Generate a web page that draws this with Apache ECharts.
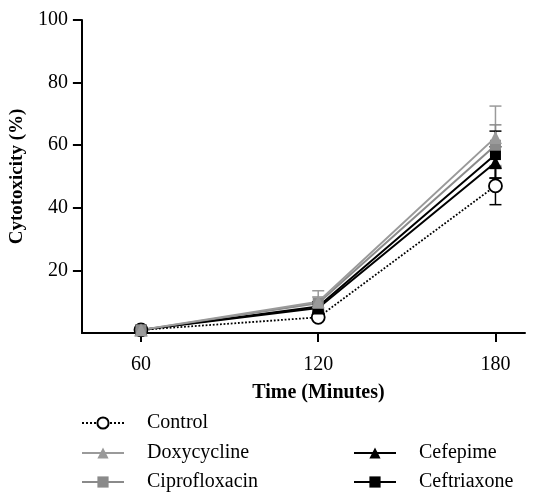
<!DOCTYPE html>
<html><head><meta charset="utf-8">
<script src="https://cdn.jsdelivr.net/npm/echarts@6/dist/echarts.min.js"></script>
<style>html,body{margin:0;padding:0;background:#fff}#c{width:553px;height:494px}</style>
</head><body><div id="c"></div>
<script>
var times = [60, 120, 180];
var seriesNames = ['Control', 'Doxycycline', 'Ciprofloxacin', 'Cefepime', 'Ceftriaxone'];
var control = [1, 5, 47];
var doxycycline = [1, 10, 62.5];
var ciprofloxacin = [1, 9.5, 60];
var cefepime = [1, 8, 54.5];
var ceftriaxone = [1, 8.5, 57];
var controlErr = [0.5, 1, 6];
var doxycyclineErr = [0.5, 3.5, 10];
var ciprofloxacinErr = [0.5, 2, 6.5];
var cefepimeErr = [0.5, 1.5, 5];
var ceftriaxoneErr = [0.5, 1.5, 7.5];
var yTicks = [20, 40, 60, 80, 100];

var FONT = "'Liberation Serif', 'Times New Roman', serif";
var GRAY = '#8a8a8a', LGRAY = '#9a9a9a', BLACK = '#000';

function pts(vals){ return times.map(function(t,i){ return [t, vals[i]]; }); }
function errData(vals, errs){ return times.map(function(t,i){ return [t, vals[i]-errs[i], vals[i]+errs[i]]; }); }

function errSeries(vals, errs, color){
  return {
    type:'custom', silent:true, z:1,
    data: errData(vals, errs),
    renderItem: function(params, api){
      var x = api.value(0);
      var lo = api.coord([x, api.value(1)]);
      var hi = api.coord([x, api.value(2)]);
      var w = 6;
      var st = {stroke: color, lineWidth: 1.5};
      return {type:'group', children:[
        {type:'line', shape:{x1:lo[0],y1:lo[1],x2:hi[0],y2:hi[1]}, style:st},
        {type:'line', shape:{x1:hi[0]-w,y1:hi[1],x2:hi[0]+w,y2:hi[1]}, style:st},
        {type:'line', shape:{x1:lo[0]-w,y1:lo[1],x2:lo[0]+w,y2:lo[1]}, style:st}
      ]};
    }
  };
}

function lineSeries(name, vals, color, symbol, size, dotted, fill){
  return {
    name: name, type:'line', data: pts(vals), z:3,
    symbol: symbol, symbolSize: size,
    lineStyle:{color: color, width: dotted ? 1.8 : 2, type: dotted ? 'dotted' : 'solid'},
    itemStyle:{color: fill || color, borderColor: color, borderWidth: dotted ? 1.8 : 0},
    emphasis:{disabled:true}
  };
}

function legendItem(name, left, top){
  return {data:[name], orient:'horizontal', left:left, top:top, padding:0,
    itemWidth:42, itemHeight:14, selectedMode:false,
    textStyle:{fontFamily:FONT, fontSize:20, color:'#000', padding:[0,0,0,18]}};
}

var chart = echarts.init(document.getElementById('c'));
chart.setOption({
  animation:false,
  backgroundColor:'#fff',
  textStyle:{fontFamily:FONT},
  grid:{left:81, right:28, top:20, bottom:161},
  xAxis:{
    type:'value', min:40, max:190,
    name:'Time (Minutes)', nameLocation:'middle', nameGap:50,
    nameTextStyle:{fontFamily:FONT, fontWeight:'bold', fontSize:20, color:'#000', padding:[0,0,0,30]},
    axisLine:{lineStyle:{color:'#000', width:2}},
    axisTick:{show:true, length:9, lineStyle:{color:'#000', width:2}, customValues: times},
    axisLabel:{fontFamily:FONT, fontSize:20, color:'#000', margin:22, customValues: times},
    splitLine:{show:false}
  },
  yAxis:{
    type:'value', min:0, max:100, interval:20,
    name:'Cytotoxicity (%)', nameLocation:'middle', nameGap:47,
    nameTextStyle:{fontFamily:FONT, fontWeight:'bold', fontSize:19, color:'#000'},
    axisLine:{show:true, lineStyle:{color:'#000', width:2}},
    axisTick:{show:true, length:9, lineStyle:{color:'#000', width:2}, customValues: yTicks},
    axisLabel:{fontFamily:FONT, fontSize:20, color:'#000', margin:14, customValues: yTicks},
    splitLine:{show:false}
  },
  legend:[
    legendItem('Control', 81, 413),
    legendItem('Doxycycline', 81, 443),
    legendItem('Ciprofloxacin', 81, 472),
    legendItem('Cefepime', 353, 443),
    legendItem('Ceftriaxone', 353, 472)
  ],
  series:[
    errSeries(control, controlErr, BLACK),
    errSeries(doxycycline, doxycyclineErr, LGRAY),
    errSeries(ciprofloxacin, ciprofloxacinErr, GRAY),
    errSeries(cefepime, cefepimeErr, BLACK),
    errSeries(ceftriaxone, ceftriaxoneErr, BLACK),
    lineSeries('Control', control, BLACK, 'circle', 13, true, '#fff'),
    lineSeries('Cefepime', cefepime, BLACK, 'triangle', 13, false),
    lineSeries('Ceftriaxone', ceftriaxone, BLACK, 'rect', 11, false),
    lineSeries('Ciprofloxacin', ciprofloxacin, GRAY, 'rect', 11, false),
    lineSeries('Doxycycline', doxycycline, LGRAY, 'triangle', 13, false)
  ]
});
</script></body></html>
